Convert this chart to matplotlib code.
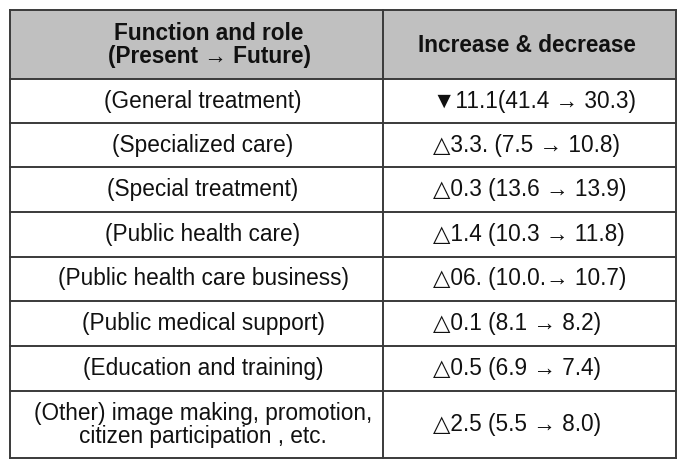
import matplotlib.pyplot as plt
from matplotlib.patches import Rectangle

plt.rcParams['font.family'] = ['Liberation Sans', 'DejaVu Sans']

# Table content
header = ["Function and role\n(Present \u2192 Future)", "Increase & decrease"]
functions = [
    "(General treatment)",
    "(Specialized care)",
    "(Special treatment)",
    "(Public health care)",
    "(Public health care business)",
    "(Public medical support)",
    "(Education and training)",
    "(Other) image making, promotion,\ncitizen participation , etc.",
]
changes = [
    "\u25bc11.1(41.4 \u2192 30.3)",
    "\u25b33.3. (7.5 \u2192 10.8)",
    "\u25b30.3 (13.6 \u2192 13.9)",
    "\u25b31.4 (10.3 \u2192 11.8)",
    "\u25b306. (10.0.\u2192 10.7)",
    "\u25b30.1 (8.1 \u2192 8.2)",
    "\u25b30.5 (6.9 \u2192 7.4)",
    "\u25b32.5 (5.5 \u2192 8.0)",
]

# layout in pixels
W, H = 696, 461
left, mid, right = 10, 383, 676
row_edges = [10, 79, 123, 167.5, 212, 256.5, 301, 346, 391, 458]

fig = plt.figure(figsize=(W / 100, H / 100), dpi=100)
ax = fig.add_axes([0, 0, 1, 1])
ax.set_xlim(0, W)
ax.set_ylim(H, 0)
ax.axis('off')

# header background
ax.add_patch(Rectangle((left, row_edges[0]), right - left, row_edges[1] - row_edges[0],
                       facecolor='#c0c0c0', edgecolor='none', zorder=0))

lc = '#3a3a3a'
for y in row_edges:
    ax.plot([left, right], [y, y], color=lc, lw=1.4, solid_capstyle='projecting')
for x in [left, mid, right]:
    ax.plot([x, x], [row_edges[0], row_edges[-1]], color=lc, lw=1.4, solid_capstyle='projecting')

c1 = 203
x2 = 433
fs = 16.3
tc = '#111111'

hy = (row_edges[0] + row_edges[1]) / 2 + 1
ax.text(209, hy, header[0], ha='center', va='center', fontsize=fs, fontweight='bold',
        linespacing=1.0, color=tc)
ax.text(527, hy, header[1], ha='center', va='center', fontsize=fs,
        fontweight='bold', color=tc)

for i, (f, c) in enumerate(zip(functions, changes)):
    y = (row_edges[i + 1] + row_edges[i + 2]) / 2
    ax.text(c1, y, f, ha='center', va='center', fontsize=fs, linespacing=1.0, color=tc)
    ax.text(x2, y, c, ha='left', va='center', fontsize=fs, color=tc)

fig.savefig('out.png', dpi=100)
